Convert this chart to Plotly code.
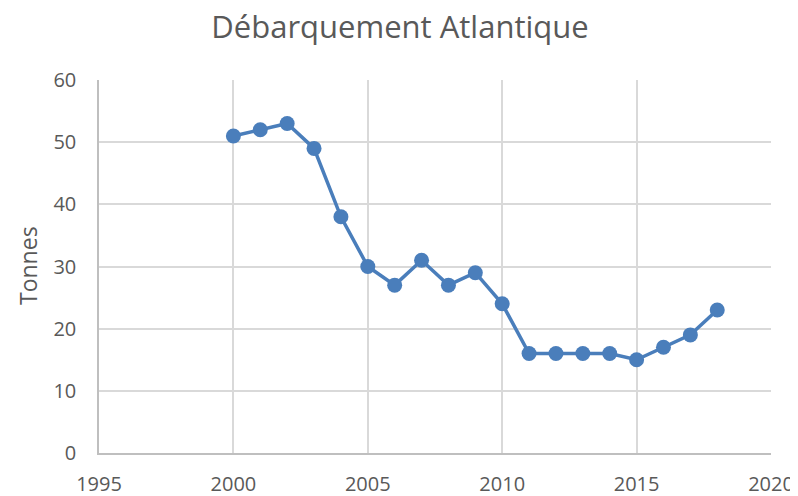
import plotly.graph_objects as go

years = [2000, 2001, 2002, 2003, 2004, 2005, 2006, 2007, 2008, 2009,
         2010, 2011, 2012, 2013, 2014, 2015, 2016, 2017, 2018]
tonnes = [51, 52, 53, 49, 38, 30, 27, 31, 27, 29,
          24, 16, 16, 16, 16, 15, 17, 19, 23]

blue = "#4a7ebb"
grey_text = "#595959"

# the page body has an 8px margin, so the figure is sized to the rest of the window
W, H = 790, 488
L, R, T, B = 91, 27, 72, 43
plot_w = W - L - R
plot_h = H - T - B

fig = go.Figure()
fig.add_trace(go.Scatter(
    x=years, y=tonnes, mode="lines+markers",
    line=dict(color=blue, width=3.5),
    marker=dict(color=blue, size=15),
    showlegend=False,
))

fig.update_layout(
    title=dict(text="Débarquement Atlantique", x=(400 - 8) / W, xanchor="center",
               y=1 - 19 / H, yanchor="middle",
               font=dict(size=31, color=grey_text)),
    width=W, height=H,
    margin=dict(l=L, r=R, t=T, b=B, autoexpand=False),
    plot_bgcolor="white", paper_bgcolor="white",
    font=dict(family="Open Sans, Liberation Sans, sans-serif", size=20, color=grey_text),
)
fig.add_annotation(
    text="Tonnes", textangle=-90, showarrow=False,
    xref="paper", yref="paper",
    x=(20 - L) / plot_w, y=(H - B - 258) / plot_h,
    xanchor="center", yanchor="middle",
    font=dict(size=23, color=grey_text),
)
fig.update_xaxes(range=[1995, 2020], dtick=5, tick0=1995,
                 showgrid=True, gridcolor="#d9d9d9", gridwidth=1.5,
                 showline=True, linecolor="#bfbfbf", linewidth=1.5,
                 ticks="", zeroline=False, ticklabelstandoff=12,
                 automargin=False)
fig.update_yaxes(range=[0, 60], dtick=10,
                 showgrid=True, gridcolor="#d9d9d9", gridwidth=1.5,
                 showline=True, linecolor="#bfbfbf", linewidth=1.5,
                 ticks="", zeroline=False, ticklabelstandoff=17,
                 automargin=False)

fig.write_html("out.html")
